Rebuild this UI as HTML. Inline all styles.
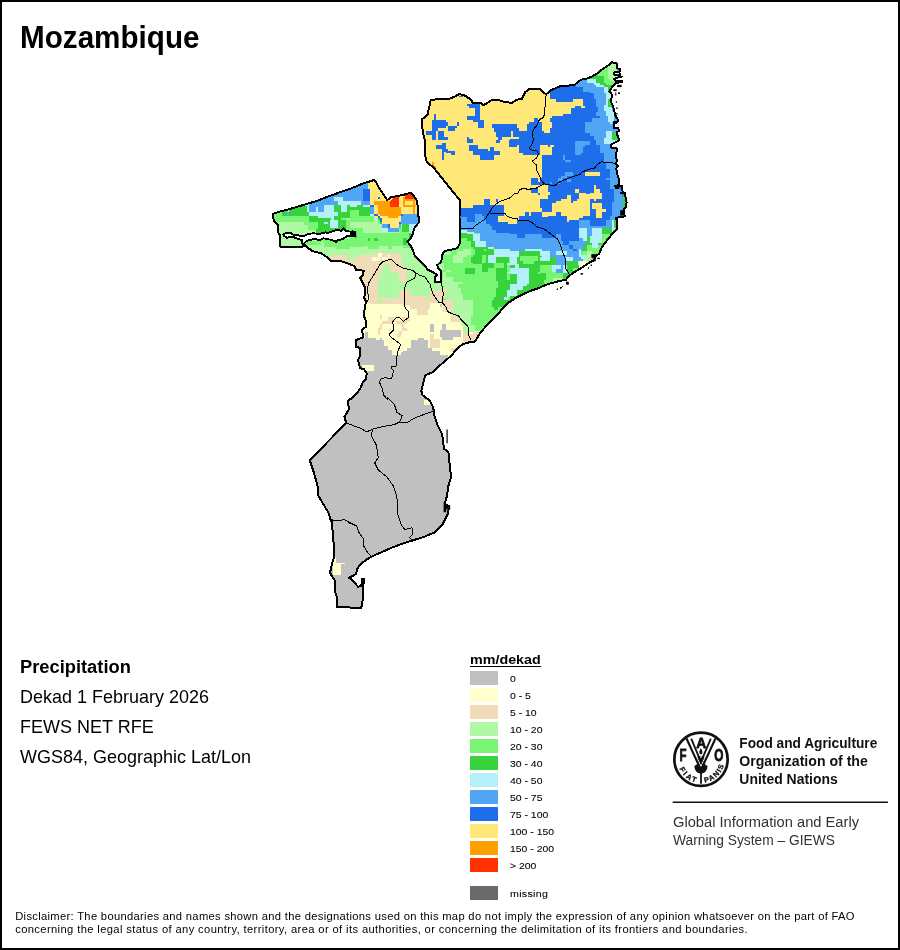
<!DOCTYPE html>
<html lang="en"><head><meta charset="utf-8"><title>Mozambique - Precipitation</title>
<style>
html,body{margin:0;padding:0;background:#fff}
body{width:900px;height:950px;position:relative;overflow:hidden;font-family:"Liberation Sans",Arial,sans-serif;color:#000}
#frame{position:absolute;left:0;top:0;width:896px;height:946px;border:2px solid #000;pointer-events:none}
.abs{position:absolute;white-space:nowrap;transform-origin:left top}
.sw{position:absolute;left:470px;width:28px;height:14px}
#ul{position:absolute;left:470px;top:665.7px;width:71px;height:1.3px;background:#000}
</style></head><body>
<svg id="map" width="900" height="950" viewBox="0 0 900 950" style="position:absolute;left:0;top:0">
<defs><clipPath id="cp"><polygon points="424.7,153.3 424.7,140 422.7,132 422,119.3 427.3,115.3 430,104 430.7,99.7 448.7,98.9 454.7,96.7 459.3,94 465.3,95.7 471.3,100 472.7,103.3 481.3,103.3 482.7,105.3 486.7,103.3 492,100 498.7,100 503.3,101.6 508.7,102.4 511.3,103.3 516,100 522,98.7 525.3,92 529.3,89.1 540,88.7 540.7,89.9 546,94.3 548,93 550,90.7 561.3,85.7 574,85.4 576.7,83 581.3,79.7 586.7,78.7 592.7,76.1 596.7,73.7 602,69.4 606.7,66.3 610,64.3 612.2,62.2 616.7,63.6 617.1,68.4 619.8,68.9 620.2,71.1 618.4,72 614.4,72.4 613.6,74.2 615.8,75.1 620.2,74.2 620.7,76.9 616.7,77.8 614,79.1 615.3,80.9 622.4,80.9 622.4,82.2 616.7,82.7 615.3,84 612.2,86.7 610.9,89.3 609.1,91.6 611.3,93.3 612.2,95.6 611.3,99.1 611.3,102.7 613.1,106.2 614,109.8 614.9,114.2 616.7,117.8 618.4,120.4 616.7,122.7 613.6,122.2 613.6,125.8 614.4,128.4 618.4,128.4 619.3,131.1 616.7,132 616.7,133.8 618.4,137.3 618.9,140 616.7,141.8 611.3,144.4 610.9,147.6 616.7,148.4 616.2,157.8 617.1,160.4 615.8,164 618.4,165.8 616.2,168.4 617.6,175.6 619.3,180 618.4,185.3 614.9,186.2 616.7,188.4 618.4,188 618.4,186.2 622,186.2 622.7,192.4 620.7,193.3 625.1,193.3 625.6,197.8 626.6,202.2 626,207.6 623.8,209.3 624.7,216.4 620.2,216.9 615.8,218.2 616.7,220 617.3,228.3 611.3,235 606,241.7 602,247 599.3,253.7 595.3,256.3 594,260.3 588.7,263 580.7,268.3 574,272.3 568.7,276.3 566,279.7 556.7,281.7 547.3,284.3 538,288.3 532,290.3 524,293.7 516,297.7 508,303 502.7,308.3 497.3,315 492,320.3 485.3,327 480,333 477.3,337.7 474.7,341.7 469.3,342.3 462.7,344.3 457.3,348.3 452,355 440,365.3 433.3,372 425.3,375.3 423.3,382.7 421.3,390.7 422.7,395.3 429.8,400.7 433.3,407.8 434.2,414.9 437.8,425.6 442.2,434.4 444,448.7 448.4,452.2 449.3,461.1 451.1,477.1 448.4,486 446.7,496.7 444.9,503.8 449.3,506.4 447.6,514.4 442.2,525.1 435.1,532.2 424.4,536.7 414,540 403.3,543.3 392.7,547.3 382,552 371.3,556.7 366,560 360.7,564 357.3,568.7 356,574 351.3,576.7 348.7,578 351.3,578.7 354,582 358,586.7 361.3,586 362,578.7 364,578.7 363.3,586.7 362.7,600 361.3,607.7 337.3,607.3 337.3,598.7 335.3,592 335.3,581.3 332.7,577.3 330,572.7 332,564 334,557.3 334,546.7 332.7,533.3 332,520 331.1,521.6 328.4,512.7 323.1,503.8 317.8,494.9 317.8,486.9 314.2,473.6 309.8,460.2 346.2,422.9 344.4,416.7 348.9,409.6 348,400.7 353.3,397.1 360,389.3 362.7,382.7 366,378.7 366.7,373.3 364,369.3 360,368 358,360 360,356 360,348 356,346.7 356,340 363.3,337.3 362,330 366,326.7 366,321.3 364,316 364.7,308 366,301.3 364,297.3 365.3,293.3 364.7,286.7 361.3,280 360.3,278 363,275.3 363.7,270.7 356.3,270 354.3,266 347.7,263.3 341,261.3 330.3,260.7 326.3,256.7 321,253.3 313,251.3 309,248.7 305,245.3 301,247.3 297,247.1 280.3,246.7 280.3,235.3 278.3,232.7 277.7,224.7 273.7,220.7 273,214 278.3,212 289,209.3 302.3,205.3 315.7,201.3 327.7,196.7 337,193.3 350.3,188.7 363.7,183.3 374.3,180 376,182 378.7,187.3 384,195.3 387.3,200 390.7,197.3 397.3,196 404,194.7 410.7,192.7 414,196 417.3,201.3 418,212.7 419.3,222 414.7,227.3 412.7,234 410.7,238 407.3,241.3 410.7,246 412.7,250 414.7,255.3 420,260.7 422.7,263.7 428,269.7 433.3,272.3 437.3,275 434.7,277.7 434.7,282.3 441.3,282.3 440.7,271 438,268.3 437.3,265 441.3,261.7 442,255 444.7,251 457.3,248.3 460,243 460,235 459.5,217 460,200 454.7,194 449.3,187.3 444,180.7 438.7,174 433.3,167.3 426.7,162"/></clipPath></defs>
<g clip-path="url(#cp)" shape-rendering="crispEdges">
<rect x="260" y="50" width="380" height="570" fill="#c0c0c0"/>
<polygon fill="#ffe878" points="420,60 510,60 510,140 420,140"/>
<polygon fill="#1e6eeb" points="434,113.8 435.8,113.8 435.8,120.4 434,120.4"/>
<polygon fill="#1e6eeb" points="432.2,120.4 446,120.4 446,122.2 432.2,122.2"/>
<polygon fill="#1e6eeb" points="432.2,122.2 447.8,122.2 447.8,126.2 432.2,126.2"/>
<polygon fill="#1e6eeb" points="432.2,126.2 446,126.2 446,128.4 432.2,128.4"/>
<polygon fill="#1e6eeb" points="432.2,128.4 438,128.4 438,131.1 432.2,131.1"/>
<polygon fill="#1e6eeb" points="430,131.1 435.8,131.1 435.8,134.7 430,134.7"/>
<polygon fill="#1e6eeb" points="432.2,134.7 435.8,134.7 435.8,140 432.2,140"/>
<polygon fill="#1e6eeb" points="438.4,131.1 443.8,131.1 443.8,137.3 438.4,137.3"/>
<polygon fill="#1e6eeb" points="438.4,137.3 447.8,137.3 447.8,140 438.4,140"/>
<polygon fill="#1e6eeb" points="457.1,122.2 458.9,122.2 458.9,125.8 457.1,125.8"/>
<polygon fill="#1e6eeb" points="448.2,126.2 456.7,126.2 456.7,128.4 448.2,128.4"/>
<polygon fill="#1e6eeb" points="448.2,128.4 454.9,128.4 454.9,130.7 448.2,130.7"/>
<polygon fill="#1e6eeb" points="467.3,104 475.3,104 475.3,106.2 467.3,106.2"/>
<polygon fill="#1e6eeb" points="469.1,106.2 475.3,106.2 475.3,108 469.1,108"/>
<polygon fill="#1e6eeb" points="475.3,104 479.8,104 479.8,120.4 475.3,120.4"/>
<polygon fill="#1e6eeb" points="467.3,116 475.3,116 475.3,119.6 467.3,119.6"/>
<polygon fill="#1e6eeb" points="473.1,119.6 483.8,119.6 483.8,122.2 473.1,122.2"/>
<polygon fill="#1e6eeb" points="478.4,122.2 483.8,122.2 483.8,127.6 478.4,127.6"/>
<polygon fill="#1e6eeb" points="492.2,124 510,124 510,128 492.2,128"/>
<polygon fill="#1e6eeb" points="494,128 510,128 510,132 494,132"/>
<polygon fill="#1e6eeb" points="495.8,132 510,132 510,137.3 495.8,137.3"/>
<polygon fill="#1e6eeb" points="497.6,137.3 502,137.3 502,140 497.6,140"/>
<polygon fill="#1e6eeb" points="467.3,137.3 469.1,137.3 469.1,140 467.3,140"/>
<polygon fill="#1e6eeb" points="469.1,138.7 472.7,138.7 472.7,140 469.1,140"/>
<polygon fill="#1e6eeb" points="459.3,95.6 462.9,95.6 462.9,96.9 459.3,96.9"/>
<polygon fill="#1e6eeb" points="510,60 590,60 590,140 510,140"/>
<polygon fill="#ffe878" points="510,86.7 550,86.7 550,99.1 556.2,99.1 556.2,101.8 573.1,101.8 573.1,99.1 582.9,99.1 582.9,106.2 584.7,106.2 584.7,108 580.7,108 580.7,106.2 575.3,106.2 575.3,108 571.3,108 571.3,114.2 563.3,114.2 563.3,116 552.2,116 552.2,118.2 550.4,118.2 550.4,122.2 551.8,122.2 551.8,128 550,128 550,132.9 544.2,132.9 544.2,131.1 542,131.1 542,122.2 538.4,122.2 538.4,118.2 534,118.2 534,122.2 529.1,122.2 529.1,124 526.9,124 526.9,131.1 519.3,131.1 519.3,128 517.1,128 517.1,124 510,124"/>
<polygon fill="#ffe878" points="511.3,131.1 513.1,131.1 513.1,137.3 511.3,137.3"/>
<polygon fill="#ffe878" points="510,136.9 518.9,136.9 518.9,139.1 510,139.1"/>
<polygon fill="#50a5f5" points="575.8,77.8 590,77.8 590,86.7 575.8,86.7"/>
<polygon fill="#50a5f5" points="582.9,86.7 590,86.7 590,92.4 582.9,92.4"/>
<polygon fill="#50a5f5" points="585.1,122.2 590,122.2 590,132.9 585.1,132.9"/>
<polygon fill="#b4f0fa" points="586.9,79.1 590,79.1 590,83.1 586.9,83.1"/>
<polygon fill="#50a5f5" points="590,60 670,60 670,140 590,140"/>
<polygon fill="#1e6eeb" points="590,92.9 594,92.9 594,99.1 590,99.1"/>
<polygon fill="#1e6eeb" points="590,99.1 595.8,99.1 595.8,107.1 590,107.1"/>
<polygon fill="#1e6eeb" points="590,107.1 598,107.1 598,112.4 590,112.4"/>
<polygon fill="#1e6eeb" points="590,112.4 595.8,112.4 595.8,116 590,116"/>
<polygon fill="#1e6eeb" points="590,116 599.8,116 599.8,118.2 590,118.2"/>
<polygon fill="#1e6eeb" points="590,118.2 591.8,118.2 591.8,122.2 590,122.2"/>
<polygon fill="#1e6eeb" points="590,135.6 594,135.6 594,140 590,140"/>
<polygon fill="#b4f0fa" points="590,78.7 596.2,78.7 596.2,82.7 590,82.7"/>
<polygon fill="#b4f0fa" points="594,82.7 599.8,82.7 599.8,84.9 594,84.9"/>
<polygon fill="#b4f0fa" points="596.2,84.9 604.2,84.9 604.2,87.1 596.2,87.1"/>
<polygon fill="#b4f0fa" points="603.8,86.7 608.2,86.7 608.2,92.9 603.8,92.9"/>
<polygon fill="#b4f0fa" points="606,92.9 611.8,92.9 611.8,99.1 606,99.1"/>
<polygon fill="#b4f0fa" points="606,99.1 608.2,99.1 608.2,105.3 606,105.3"/>
<polygon fill="#b4f0fa" points="604.2,105.3 612.2,105.3 612.2,110.7 604.2,110.7"/>
<polygon fill="#b4f0fa" points="606,110.7 613.6,110.7 613.6,116 606,116"/>
<polygon fill="#b4f0fa" points="608.2,116 613.6,116 613.6,122.2 608.2,122.2"/>
<polygon fill="#b4f0fa" points="610,122.2 612.2,122.2 612.2,124 610,124"/>
<polygon fill="#b4f0fa" points="606,131.1 611.8,131.1 611.8,138.2 606,138.2"/>
<polygon fill="#b4f0fa" points="604.2,138.2 611.8,138.2 611.8,140 604.2,140"/>
<polygon fill="#aff9a5" points="608.2,63.6 616.7,63.6 616.7,79.1 608.2,79.1"/>
<polygon fill="#aff9a5" points="610.4,79.1 614,79.1 614,81.3 610.4,81.3"/>
<polygon fill="#78f573" points="598,71.6 608.2,71.6 608.2,76.9 598,76.9"/>
<polygon fill="#78f573" points="601.6,65.3 608.2,65.3 608.2,71.6 601.6,71.6"/>
<polygon fill="#78f573" points="603.8,76.9 608.2,76.9 608.2,84.9 603.8,84.9"/>
<polygon fill="#78f573" points="608.2,79.1 610.4,79.1 610.4,84.9 608.2,84.9"/>
<polygon fill="#78f573" points="610.4,81.3 616.7,81.3 616.7,84.9 610.4,84.9"/>
<polygon fill="#37d23c" points="596.2,76.4 603.8,76.4 603.8,83.1 596.2,83.1"/>
<polygon fill="#37d23c" points="590,73.3 596.2,73.3 596.2,78.7 590,78.7"/>
<polygon fill="#37d23c" points="599.8,83.1 606,83.1 606,84.9 599.8,84.9"/>
<polygon fill="#37d23c" points="604.2,84.9 615.8,84.9 615.8,86.7 604.2,86.7"/>
<polygon fill="#37d23c" points="608.2,86.7 614,86.7 614,92.9 608.2,92.9"/>
<polygon fill="#37d23c" points="608.2,99.1 611.8,99.1 611.8,107.1 608.2,107.1"/>
<polygon fill="#37d23c" points="612.2,132.9 616.7,132.9 616.7,140 612.2,140"/>
<polygon fill="#37d23c" points="270,140 350,140 350,220 270,220"/>
<polygon fill="#50a5f5" points="307.3,184.4 350,184.4 350,205.3 307.3,205.3"/>
<polygon fill="#50a5f5" points="309.1,205.3 324.2,205.3 324.2,212 309.1,212"/>
<polygon fill="#50a5f5" points="286.9,212 289.1,212 289.1,216 286.9,216"/>
<polygon fill="#b4f0fa" points="334,196.9 342.9,196.9 342.9,201.3 334,201.3"/>
<polygon fill="#b4f0fa" points="338,201.3 350,201.3 350,205.3 338,205.3"/>
<polygon fill="#b4f0fa" points="341.1,205.3 347.3,205.3 347.3,212 341.1,212"/>
<polygon fill="#b4f0fa" points="324.2,205.3 334,205.3 334,212 324.2,212"/>
<polygon fill="#b4f0fa" points="316.2,207.1 318,207.1 318,212 316.2,212"/>
<polygon fill="#b4f0fa" points="307.3,205.3 309.1,205.3 309.1,212 307.3,212"/>
<polygon fill="#b4f0fa" points="309.1,212 338,212 338,216 309.1,216"/>
<polygon fill="#b4f0fa" points="318,216 334,216 334,218.2 318,218.2"/>
<polygon fill="#b4f0fa" points="330.9,218.2 334,218.2 334,220 330.9,220"/>
<polygon fill="#b4f0fa" points="303.8,204 309.1,204 309.1,206.2 303.8,206.2"/>
<polygon fill="#b4f0fa" points="286.9,209.3 289.1,209.3 289.1,212 286.9,212"/>
<polygon fill="#78f573" points="273.6,211.1 282,211.1 282,220 273.6,220"/>
<polygon fill="#78f573" points="282,216 309.1,216 309.1,220 282,220"/>
<polygon fill="#78f573" points="341.1,218.2 350,218.2 350,220 341.1,220"/>
<polygon fill="#aff9a5" points="345.6,218.2 350,218.2 350,220 345.6,220"/>
<polygon fill="#ffe878" points="350,140 430,140 430,220 350,220"/>
<polygon fill="#50a5f5" points="350,175.6 368.2,175.6 368.2,201.3 350,201.3"/>
<polygon fill="#50a5f5" points="361.1,201.3 370,201.3 370,205.3 361.1,205.3"/>
<polygon fill="#50a5f5" points="370,205.3 374,205.3 374,214.2 370,214.2"/>
<polygon fill="#50a5f5" points="401.1,214.2 417.6,214.2 417.6,220 401.1,220"/>
<polygon fill="#1e6eeb" points="363.3,188.9 370,188.9 370,201.3 363.3,201.3"/>
<polygon fill="#1e6eeb" points="370,205.3 374,205.3 374,207.1 370,207.1"/>
<polygon fill="#1e6eeb" points="374,213.8 378,213.8 378,216 374,216"/>
<polygon fill="#1e6eeb" points="378,216 380.2,216 380.2,218.2 378,218.2"/>
<polygon fill="#1e6eeb" points="380.2,218.2 382,218.2 382,220 380.2,220"/>
<polygon fill="#1e6eeb" points="401.1,214.2 402.9,214.2 402.9,216 401.1,216"/>
<polygon fill="#1e6eeb" points="378,196.9 379.8,196.9 379.8,199.1 378,199.1"/>
<polygon fill="#b4f0fa" points="350,200.9 361.1,200.9 361.1,206.7 350,206.7"/>
<polygon fill="#b4f0fa" points="363.3,204.9 368.2,204.9 368.2,207.1 363.3,207.1"/>
<polygon fill="#b4f0fa" points="370,214.2 374,214.2 374,216 370,216"/>
<polygon fill="#b4f0fa" points="374,218.2 378,218.2 378,220 374,220"/>
<polygon fill="#37d23c" points="357.1,205.3 363.3,205.3 363.3,207.1 357.1,207.1"/>
<polygon fill="#37d23c" points="350,207.1 370,207.1 370,210.2 350,210.2"/>
<polygon fill="#37d23c" points="358.9,210.2 370,210.2 370,216 358.9,216"/>
<polygon fill="#37d23c" points="378,218.2 380.2,218.2 380.2,220 378,220"/>
<polygon fill="#78f573" points="350,210.2 358.9,210.2 358.9,220 350,220"/>
<polygon fill="#78f573" points="358.9,216 374,216 374,220 358.9,220"/>
<polygon fill="#ffa000" points="374,201.3 390,201.3 390,207.1 401.1,207.1 401.1,216 398.4,216 398.4,217.8 388.2,217.8 388.2,216 380.2,216 380.2,214.2 378,214.2 378,205.3 374,205.3"/>
<polygon fill="#ff3200" points="390,207.1 390,201.3 392.2,198.7 396.2,196.9 398.9,196.9 398.9,207.1"/>
<polygon fill="#ff3200" points="405.1,192.4 414,192.4 414,198.7 405.1,198.7"/>
<polygon fill="#ff3200" points="411.3,198.7 413.1,198.7 413.1,200.4 411.3,200.4"/>
<polygon fill="#ffa000" points="402.9,196.9 404.7,196.9 404.7,207.1 402.9,207.1"/>
<polygon fill="#ffa000" points="404.7,198.7 415.8,198.7 415.8,200.9 404.7,200.9"/>
<polygon fill="#ffa000" points="404.7,205.3 415.8,205.3 415.8,207.1 404.7,207.1"/>
<polygon fill="#ffa000" points="413.1,200.9 415.3,200.9 415.3,213.8 413.1,213.8"/>
<polygon fill="#ffa000" points="374,179.1 376.7,179.1 376.7,181.8 374,181.8"/>
<polygon fill="#ffe878" points="430,140 510,140 510,220 430,220"/>
<polygon fill="#1e6eeb" points="442,143.1 446,143.1 446,145.2 442,145.2"/>
<polygon fill="#1e6eeb" points="436.2,145.2 446,145.2 446,148.9 436.2,148.9"/>
<polygon fill="#1e6eeb" points="442,148.9 448.2,148.9 448.2,151.6 442,151.6"/>
<polygon fill="#1e6eeb" points="446,151.1 454.9,151.1 454.9,152.9 446,152.9"/>
<polygon fill="#1e6eeb" points="450.9,152.9 454.9,152.9 454.9,154.7 450.9,154.7"/>
<polygon fill="#1e6eeb" points="442,151.6 444.2,151.6 444.2,159.6 442,159.6"/>
<polygon fill="#1e6eeb" points="467.3,140 472.7,140 472.7,142.7 467.3,142.7"/>
<polygon fill="#1e6eeb" points="496.2,140 499.8,140 499.8,142.7 496.2,142.7"/>
<polygon fill="#1e6eeb" points="509.1,140 510,140 510,146.7 509.1,146.7"/>
<polygon fill="#1e6eeb" points="469.1,145.2 478,145.2 478,150.7 469.1,150.7"/>
<polygon fill="#1e6eeb" points="473.1,148.9 488.2,148.9 488.2,154.7 473.1,154.7"/>
<polygon fill="#1e6eeb" points="480.2,154.7 494,154.7 494,159.6 480.2,159.6"/>
<polygon fill="#1e6eeb" points="488.2,150.7 499.8,150.7 499.8,154.7 488.2,154.7"/>
<polygon fill="#1e6eeb" points="490,147.1 494,147.1 494,150.7 490,150.7"/>
<polygon fill="#1e6eeb" points="484.2,199.1 490,199.1 490,205.3 484.2,205.3"/>
<polygon fill="#1e6eeb" points="495.8,199.1 498,199.1 498,202.2 495.8,202.2"/>
<polygon fill="#1e6eeb" points="473.1,205.3 503.8,205.3 503.8,207.6 473.1,207.6"/>
<polygon fill="#1e6eeb" points="458.4,207.6 503.8,207.6 503.8,216 458.4,216"/>
<polygon fill="#1e6eeb" points="458.4,216 497.6,216 497.6,220 458.4,220"/>
<polygon fill="#50a5f5" points="475.3,214.2 481.6,214.2 481.6,216.4 475.3,216.4"/>
<polygon fill="#50a5f5" points="475.3,216.4 484.2,216.4 484.2,220 475.3,220"/>
<polygon fill="#50a5f5" points="460.7,217.3 466.9,217.3 466.9,220 460.7,220"/>
<polygon fill="#ffa000" points="432.2,162.2 434,162.2 434,165.8 432.2,165.8"/>
<polygon fill="#ffa000" points="434,165.8 435.8,165.8 435.8,168.4 434,168.4"/>
<polygon fill="#1e6eeb" points="510,140 590,140 590,220 510,220"/>
<polygon fill="#ffe878" points="510,147.1 517.1,147.1 517.1,144.9 518.9,144.9 518.9,152.9 523.3,152.9 523.3,154.7 542,154.7 542,178.2 540.2,178.2 540.2,181.8 538.4,181.8 538.4,178.2 531.3,178.2 531.3,184.9 548.2,184.9 548.2,192.4 550,192.4 550,194.7 548.2,194.7 548.2,198.7 540.2,198.7 540.2,208.4 542.4,208.4 542.4,212 531.3,212 531.3,216 529.1,216 529.1,212 525.1,212 525.1,216 519.3,216 519.3,220 510,220"/>
<polygon fill="#1e6eeb" points="531.3,187.6 538,187.6 538,192.9 531.3,192.9"/>
<polygon fill="#1e6eeb" points="538,192.9 539.8,192.9 539.8,194.7 538,194.7"/>
<polygon fill="#ffe878" points="540.2,144.9 548.2,144.9 548.2,154.7 540.2,154.7"/>
<polygon fill="#ffe878" points="548.2,146.7 551.8,146.7 551.8,154.7 548.2,154.7"/>
<polygon fill="#ffe878" points="550,144.9 554,144.9 554,147.1 550,147.1"/>
<polygon fill="#ffe878" points="585.1,172 590,172 590,176 585.1,176"/>
<polygon fill="#ffe878" points="575.3,188.9 578.9,188.9 578.9,192.9 575.3,192.9"/>
<polygon fill="#ffe878" points="590,194.2 585.6,194.2 585.6,192.9 578.9,192.9 578.9,198.7 576.7,198.7 576.7,200.9 573.1,200.9 573.1,202.7 570.9,202.7 570.9,195.1 566.9,195.1 566.9,198.7 561.1,198.7 561.1,200.9 556.2,200.9 556.2,202.7 552.2,202.7 552.2,212 542.4,212 542.4,217.3 548.2,217.3 548.2,216 556.2,216 556.2,212 560.7,212 560.7,216 566.9,216 566.9,220 579.3,220 579.3,218.2 582.9,218.2 582.9,216 590,216"/>
<polygon fill="#50a5f5" points="575.3,141.3 590,141.3 590,144.9 585.1,144.9 585.1,147.1 582.9,147.1 582.9,152.9 581.1,152.9 581.1,154.7 575.3,154.7"/>
<polygon fill="#50a5f5" points="563.3,155.1 565.1,155.1 565.1,159.6 563.3,159.6"/>
<polygon fill="#50a5f5" points="565.1,159.6 570.9,159.6 570.9,161.8 565.1,161.8"/>
<polygon fill="#50a5f5" points="565.1,172 573.1,172 573.1,176 565.1,176"/>
<polygon fill="#50a5f5" points="561.1,176 566.9,176 566.9,178.2 561.1,178.2"/>
<polygon fill="#50a5f5" points="558,178.2 563.3,178.2 563.3,181.8 558,181.8"/>
<polygon fill="#50a5f5" points="550,181.8 551.8,181.8 551.8,184.4 550,184.4"/>
<polygon fill="#50a5f5" points="566.9,179.1 570.9,179.1 570.9,181.8 566.9,181.8"/>
<polygon fill="#50a5f5" points="558,181.8 559.8,181.8 559.8,184.4 558,184.4"/>
<polygon fill="#1e6eeb" points="590,140 670,140 670,220 590,220"/>
<polygon fill="#50a5f5" points="596.2,140 619.3,140 619.3,145.3 596.2,145.3"/>
<polygon fill="#50a5f5" points="599.8,145.3 619.3,145.3 619.3,152.9 599.8,152.9"/>
<polygon fill="#50a5f5" points="603.8,152.9 619.3,152.9 619.3,163.1 603.8,163.1"/>
<polygon fill="#50a5f5" points="606,163.1 619.3,163.1 619.3,169.3 606,169.3"/>
<polygon fill="#50a5f5" points="610,169.3 619.3,169.3 619.3,178.2 610,178.2"/>
<polygon fill="#50a5f5" points="606,178.2 619.3,178.2 619.3,180.4 606,180.4"/>
<polygon fill="#50a5f5" points="610,180.4 619.3,180.4 619.3,188.9 610,188.9"/>
<polygon fill="#50a5f5" points="614,188.9 622,188.9 622,196.9 614,196.9"/>
<polygon fill="#50a5f5" points="614,196.9 627.3,196.9 627.3,202.2 614,202.2"/>
<polygon fill="#50a5f5" points="612.2,202.2 627.3,202.2 627.3,216.4 612.2,216.4"/>
<polygon fill="#50a5f5" points="610,216.4 616.7,216.4 616.7,220 610,220"/>
<polygon fill="#b4f0fa" points="604.2,140 619.3,140 619.3,144.4 604.2,144.4"/>
<polygon fill="#b4f0fa" points="610,144.4 612.2,144.4 612.2,148 610,148"/>
<polygon fill="#ffe878" points="590,172 599.8,172 599.8,176 590,176"/>
<polygon fill="#ffe878" points="594,184.9 596.2,184.9 596.2,188.9 594,188.9"/>
<polygon fill="#ffe878" points="594,188.9 599.8,188.9 599.8,192.9 594,192.9"/>
<polygon fill="#ffe878" points="590,192.9 602,192.9 602,198.7 590,198.7"/>
<polygon fill="#ffe878" points="594,198.7 596.2,198.7 596.2,200.9 594,200.9"/>
<polygon fill="#ffe878" points="592.2,203.1 602,203.1 602,208.9 592.2,208.9"/>
<polygon fill="#ffe878" points="596.2,208.9 606,208.9 606,212 596.2,212"/>
<polygon fill="#ffe878" points="596.2,212 602,212 602,217.8 596.2,217.8"/>
<polygon fill="#37d23c" points="622.9,195.1 627.3,195.1 627.3,207.6 622.9,207.6"/>
<polygon fill="#aff9a5" points="270,220 350,220 350,300 270,300"/>
<polygon fill="#78f573" points="273.6,220 318,220 318,222.2 273.6,222.2"/>
<polygon fill="#78f573" points="304.2,222.2 318,222.2 318,225.3 304.2,225.3"/>
<polygon fill="#78f573" points="308.2,225.3 318,225.3 318,229.8 308.2,229.8"/>
<polygon fill="#78f573" points="345.6,220 350,220 350,232.4 345.6,232.4"/>
<polygon fill="#78f573" points="305.6,240.9 320.7,240.9 320.7,245.3 305.6,245.3"/>
<polygon fill="#78f573" points="320.7,239.1 350,239.1 350,241.8 320.7,241.8"/>
<polygon fill="#78f573" points="324.2,241.8 350,241.8 350,246.7 324.2,246.7"/>
<polygon fill="#78f573" points="335.8,246.7 350,246.7 350,249.3 335.8,249.3"/>
<polygon fill="#37d23c" points="309.1,220 318,220 318,221.8 309.1,221.8"/>
<polygon fill="#37d23c" points="318,220 345.6,220 345.6,228.9 318,228.9"/>
<polygon fill="#37d23c" points="316.2,228.9 345.6,228.9 345.6,232.9 316.2,232.9"/>
<polygon fill="#b4f0fa" points="324.2,222.2 328.2,222.2 328.2,224 324.2,224"/>
<polygon fill="#b4f0fa" points="330.4,220 338,220 338,227.6 330.4,227.6"/>
<polygon fill="#f0dcb9" points="330,255.1 346.9,255.1 346.9,260 330,260"/>
<polygon fill="#f0dcb9" points="342.9,260 350,260 350,264.4 342.9,264.4"/>
<polygon fill="#f0dcb9" points="280.2,228 282,228 282,230.2 280.2,230.2"/>
<polygon fill="#aff9a5" points="350,220 430,220 430,300 350,300"/>
<polygon fill="#78f573" points="350,220 374,220 374,221.8 350,221.8"/>
<polygon fill="#78f573" points="350,228 363.3,228 363.3,246.7 350,246.7"/>
<polygon fill="#78f573" points="363.3,233.3 411.3,233.3 411.3,245.8 363.3,245.8"/>
<polygon fill="#78f573" points="367.8,245.8 379.3,245.8 379.3,248.9 367.8,248.9"/>
<polygon fill="#78f573" points="388.2,245.8 391.8,245.8 391.8,248.9 388.2,248.9"/>
<polygon fill="#78f573" points="398.9,228 411.3,228 411.3,233.3 398.9,233.3"/>
<polygon fill="#78f573" points="403.3,245.8 410.4,245.8 410.4,248.4 403.3,248.4"/>
<polygon fill="#78f573" points="378.4,220 382,220 382,223.6 378.4,223.6"/>
<polygon fill="#37d23c" points="367.8,237.8 370,237.8 370,240.9 367.8,240.9"/>
<polygon fill="#37d23c" points="374,237.8 378,237.8 378,240.9 374,240.9"/>
<polygon fill="#37d23c" points="353.6,236 356.7,236 356.7,237.8 353.6,237.8"/>
<polygon fill="#37d23c" points="401.6,224 409.1,224 409.1,231.6 401.6,231.6"/>
<polygon fill="#37d23c" points="403.3,237.8 406.9,237.8 406.9,244.9 403.3,244.9"/>
<polygon fill="#37d23c" points="409.1,231.6 411.3,231.6 411.3,237.8 409.1,237.8"/>
<polygon fill="#37d23c" points="380.2,221.8 382,221.8 382,224 380.2,224"/>
<polygon fill="#ffe878" points="382,220 401.1,220 401.1,224 382,224"/>
<polygon fill="#ffe878" points="390,224 398.9,224 398.9,228 390,228"/>
<polygon fill="#50a5f5" points="382,224 390,224 390,228 382,228"/>
<polygon fill="#50a5f5" points="388.2,228 398.9,228 398.9,232 388.2,232"/>
<polygon fill="#50a5f5" points="401.1,220 421.1,220 421.1,224 401.1,224"/>
<polygon fill="#50a5f5" points="398.9,224 401.1,224 401.1,228 398.9,228"/>
<polygon fill="#1e6eeb" points="380.2,220 382,220 382,221.8 380.2,221.8"/>
<polygon fill="#1e6eeb" points="388.2,224 390,224 390,228 388.2,228"/>
<polygon fill="#1e6eeb" points="399.3,222.2 401.1,222.2 401.1,224 399.3,224"/>
<polygon fill="#b4f0fa" points="382,228 388.2,228 388.2,232 382,232"/>
<polygon fill="#b4f0fa" points="409.1,224 417.6,224 417.6,231.6 409.1,231.6"/>
<polygon fill="#b4f0fa" points="409.1,231.6 412.2,231.6 412.2,233.3 409.1,233.3"/>
<polygon fill="#f0dcb9" points="355.3,257.3 358.9,257.3 358.9,255.1 372.2,255.1 372.2,253.3 380.2,253.3 380.2,249.3 382,249.3 382,253.3 398.9,253.3 398.9,255.1 401.1,255.1 401.1,260.9 403.3,260.9 403.3,268.9 406.9,268.9 406.9,270.7 411.3,270.7 411.3,272.4 406.9,272.4 406.9,282.2 403.3,282.2 403.3,290.2 411.3,290.2 411.3,295.6 427.3,295.6 427.3,300 363.3,300 363.3,269.8 355.3,266.2 350,262.7 350,259.1 355.3,259.1"/>
<polygon fill="#f0dcb9" points="350,259.1 366,259.1 366,300 350,300"/>
<polygon fill="#aff9a5" points="382,264.9 390,264.9 390,274.2 382,274.2"/>
<polygon fill="#aff9a5" points="380.2,272.4 399.3,272.4 399.3,282.2 380.2,282.2"/>
<polygon fill="#aff9a5" points="378,276.9 380.2,276.9 380.2,298.2 378,298.2"/>
<polygon fill="#aff9a5" points="380.2,282.2 403.3,282.2 403.3,290.2 380.2,290.2"/>
<polygon fill="#aff9a5" points="380.2,290.2 399.3,290.2 399.3,298.2 380.2,298.2"/>
<polygon fill="#ffffcc" points="372.2,257.3 380.2,257.3 380.2,260.9 372.2,260.9"/>
<polygon fill="#ffffcc" points="378,253.3 382,253.3 382,257.3 378,257.3"/>
<polygon fill="#ffffcc" points="382,257.3 388.2,257.3 388.2,259.6 382,259.6"/>
<polygon fill="#ffffcc" points="388.2,255.1 390,255.1 390,256.9 388.2,256.9"/>
<polygon fill="#ffffcc" points="367.3,297.3 370,297.3 370,300 367.3,300"/>
<polygon fill="#78f573" points="430,220 510,220 510,300 430,300"/>
<polygon fill="#50a5f5" points="460.2,220 510,220 510,250.7 496.2,250.7 496.2,248.9 494,248.9 494,246.7 486,246.7 486,240.9 480.2,240.9 480.2,233.3 474.4,233.3 474.4,231.6 467.3,231.6 467.3,229.8 460.2,229.8"/>
<polygon fill="#1e6eeb" points="486,220 510,220 510,233.3 496.2,233.3 496.2,229.8 492.2,229.8 492.2,225.8 490.4,225.8 490.4,223.6 486,223.6"/>
<polygon fill="#1e6eeb" points="467.3,220 474.9,220 474.9,221.8 467.3,221.8"/>
<polygon fill="#ffe878" points="498,220 510,220 510,221.8 498,221.8"/>
<polygon fill="#ffe878" points="508.2,221.8 510,221.8 510,223.6 508.2,223.6"/>
<polygon fill="#37d23c" points="461.1,233.3 473.1,233.3 473.1,237.8 461.1,237.8"/>
<polygon fill="#37d23c" points="467.3,237.8 474.4,237.8 474.4,240.9 467.3,240.9"/>
<polygon fill="#37d23c" points="471.3,240.9 475.3,240.9 475.3,246.7 471.3,246.7"/>
<polygon fill="#37d23c" points="473.1,246.7 496.2,246.7 496.2,248.9 473.1,248.9"/>
<polygon fill="#37d23c" points="475.3,248.9 496.2,248.9 496.2,254.7 475.3,254.7"/>
<polygon fill="#37d23c" points="473.1,254.7 481.6,254.7 481.6,264.4 473.1,264.4"/>
<polygon fill="#37d23c" points="475.3,252.9 479.8,252.9 479.8,254.7 475.3,254.7"/>
<polygon fill="#37d23c" points="483.3,254.7 488.2,254.7 488.2,264.4 483.3,264.4"/>
<polygon fill="#37d23c" points="481.6,264.4 494,264.4 494,272.4 481.6,272.4"/>
<polygon fill="#37d23c" points="488.2,262.7 496.2,262.7 496.2,264.4 488.2,264.4"/>
<polygon fill="#37d23c" points="496.2,257.3 509.1,257.3 509.1,262.7 496.2,262.7"/>
<polygon fill="#37d23c" points="494,262.7 507.3,262.7 507.3,268 494,268"/>
<polygon fill="#37d23c" points="496.2,268 507.3,268 507.3,281.3 496.2,281.3"/>
<polygon fill="#37d23c" points="498.4,281.3 504.2,281.3 504.2,288.4 498.4,288.4"/>
<polygon fill="#37d23c" points="504.2,280.4 510,280.4 510,290.2 504.2,290.2"/>
<polygon fill="#37d23c" points="496.2,288.4 507.3,288.4 507.3,297.3 496.2,297.3"/>
<polygon fill="#37d23c" points="494,297.3 504.2,297.3 504.2,300 494,300"/>
<polygon fill="#37d23c" points="465.1,268 474.9,268 474.9,273.8 465.1,273.8"/>
<polygon fill="#37d23c" points="471.3,256.9 473.1,256.9 473.1,262.7 471.3,262.7"/>
<polygon fill="#78f573" points="482,255.1 486,255.1 486,262.7 482,262.7"/>
<polygon fill="#78f573" points="494,263.1 503.8,263.1 503.8,268 494,268"/>
<polygon fill="#78f573" points="488.2,268 494,268 494,272 488.2,272"/>
<polygon fill="#78f573" points="483.8,248.9 486,248.9 486,251.1 483.8,251.1"/>
<polygon fill="#b4f0fa" points="460.2,229.8 467.3,229.8 467.3,233.3 460.2,233.3"/>
<polygon fill="#b4f0fa" points="467.3,231.6 474.4,231.6 474.4,233.8 467.3,233.8"/>
<polygon fill="#b4f0fa" points="473.1,233.8 480.2,233.8 480.2,240.9 473.1,240.9"/>
<polygon fill="#b4f0fa" points="475.3,240.9 486,240.9 486,246.7 475.3,246.7"/>
<polygon fill="#b4f0fa" points="488.2,246.7 494,246.7 494,248.9 488.2,248.9"/>
<polygon fill="#b4f0fa" points="494,248.9 510,248.9 510,257.3 494,257.3"/>
<polygon fill="#b4f0fa" points="488.2,254.7 496.2,254.7 496.2,262.7 488.2,262.7"/>
<polygon fill="#b4f0fa" points="507.3,262.7 510,262.7 510,265.3 507.3,265.3"/>
<polygon fill="#b4f0fa" points="507.3,271.6 510,271.6 510,273.3 507.3,273.3"/>
<polygon fill="#b4f0fa" points="507.3,290.2 510,290.2 510,297.3 507.3,297.3"/>
<polygon fill="#b4f0fa" points="504.2,297.3 508.2,297.3 508.2,300 504.2,300"/>
<polygon fill="#f0dcb9" points="430,290.2 441.6,290.2 441.6,300 430,300"/>
<polygon fill="#f0dcb9" points="441.6,288 446,288 446,297.8 441.6,297.8"/>
<polygon fill="#aff9a5" points="463.3,248.9 470.9,248.9 470.9,252.9 463.3,252.9"/>
<polygon fill="#aff9a5" points="457.1,251.1 470.9,251.1 470.9,254.7 457.1,254.7"/>
<polygon fill="#aff9a5" points="453.1,254.7 467.3,254.7 467.3,257.3 453.1,257.3"/>
<polygon fill="#aff9a5" points="453.1,257.3 463.3,257.3 463.3,262.7 453.1,262.7"/>
<polygon fill="#aff9a5" points="444.2,252.4 450.9,252.4 450.9,254.7 444.2,254.7"/>
<polygon fill="#aff9a5" points="438,262.7 444.2,262.7 444.2,269.8 438,269.8"/>
<polygon fill="#aff9a5" points="446,269.8 450.9,269.8 450.9,272 446,272"/>
<polygon fill="#aff9a5" points="443.3,272 446,272 446,276.9 443.3,276.9"/>
<polygon fill="#aff9a5" points="443.3,276.9 453.1,276.9 453.1,282.2 443.3,282.2"/>
<polygon fill="#aff9a5" points="443.3,282.2 457.6,282.2 457.6,288.4 443.3,288.4"/>
<polygon fill="#aff9a5" points="446,288.4 461.1,288.4 461.1,293.8 446,293.8"/>
<polygon fill="#aff9a5" points="446,293.8 462.9,293.8 462.9,300 446,300"/>
<polygon fill="#aff9a5" points="457.6,282.2 462.9,282.2 462.9,284 457.6,284"/>
<polygon fill="#aff9a5" points="430,269.8 436.2,269.8 436.2,290.2 430,290.2"/>
<polygon fill="#50a5f5" points="510,220 590,220 590,300 510,300"/>
<polygon fill="#1e6eeb" points="517.1,220 578.9,220 578.9,233.8 517.1,233.8"/>
<polygon fill="#1e6eeb" points="510,224 517.1,224 517.1,233.8 510,233.8"/>
<polygon fill="#1e6eeb" points="517.1,233.8 525.1,233.8 525.1,237.8 517.1,237.8"/>
<polygon fill="#1e6eeb" points="542,233.8 556.2,233.8 556.2,237.8 542,237.8"/>
<polygon fill="#1e6eeb" points="561.1,233.8 578.9,233.8 578.9,241.3 561.1,241.3"/>
<polygon fill="#1e6eeb" points="563.3,241.3 569.1,241.3 569.1,244.9 563.3,244.9"/>
<polygon fill="#1e6eeb" points="569.1,244.9 573.1,244.9 573.1,248.9 569.1,248.9"/>
<polygon fill="#1e6eeb" points="573.1,248.9 577.1,248.9 577.1,250.7 573.1,250.7"/>
<polygon fill="#ffe878" points="510,220 517.1,220 517.1,224 510,224"/>
<polygon fill="#ffe878" points="566.9,220 569.1,220 569.1,221.8 566.9,221.8"/>
<polygon fill="#b4f0fa" points="510,250.7 518.9,250.7 518.9,265.3 510,265.3"/>
<polygon fill="#b4f0fa" points="525.1,248.9 542,248.9 542,251.1 525.1,251.1"/>
<polygon fill="#b4f0fa" points="540.2,251.1 550,251.1 550,260.9 540.2,260.9"/>
<polygon fill="#b4f0fa" points="556.2,251.1 566.9,251.1 566.9,255.1 556.2,255.1"/>
<polygon fill="#b4f0fa" points="565.1,256.9 573.1,256.9 573.1,260.9 565.1,260.9"/>
<polygon fill="#b4f0fa" points="552.2,264.9 561.1,264.9 561.1,268.9 552.2,268.9"/>
<polygon fill="#b4f0fa" points="552.2,268.9 556.2,268.9 556.2,272 552.2,272"/>
<polygon fill="#b4f0fa" points="563.3,264.9 569.1,264.9 569.1,273.3 563.3,273.3"/>
<polygon fill="#b4f0fa" points="578.9,228 587.3,228 587.3,237.8 578.9,237.8"/>
<polygon fill="#b4f0fa" points="582.9,237.8 587.3,237.8 587.3,241.3 582.9,241.3"/>
<polygon fill="#b4f0fa" points="578.9,248.9 581.1,248.9 581.1,257.3 578.9,257.3"/>
<polygon fill="#b4f0fa" points="581.1,255.1 587.3,255.1 587.3,259.1 581.1,259.1"/>
<polygon fill="#b4f0fa" points="577.6,260.9 579.3,260.9 579.3,264.9 577.6,264.9"/>
<polygon fill="#37d23c" points="518.9,251.1 540.2,251.1 540.2,255.6 518.9,255.6"/>
<polygon fill="#37d23c" points="517.1,257.3 519.8,257.3 519.8,264.4 517.1,264.4"/>
<polygon fill="#37d23c" points="518.9,262.7 550,262.7 550,265.3 518.9,265.3"/>
<polygon fill="#37d23c" points="534,260.9 552.2,260.9 552.2,264.4 534,264.4"/>
<polygon fill="#37d23c" points="550,256.9 556.2,256.9 556.2,264.9 550,264.9"/>
<polygon fill="#37d23c" points="510,265.3 514.9,265.3 514.9,268.4 510,268.4"/>
<polygon fill="#37d23c" points="523.3,265.3 552.2,265.3 552.2,269.8 523.3,269.8"/>
<polygon fill="#37d23c" points="523.3,269.8 540.2,269.8 540.2,273.3 523.3,273.3"/>
<polygon fill="#37d23c" points="529.1,273.3 545.6,273.3 545.6,282.2 529.1,282.2"/>
<polygon fill="#37d23c" points="527.3,282.2 543.8,282.2 543.8,286.7 527.3,286.7"/>
<polygon fill="#37d23c" points="523.3,285.8 536.7,285.8 536.7,290.2 523.3,290.2"/>
<polygon fill="#37d23c" points="517.1,290.2 532.2,290.2 532.2,294.7 517.1,294.7"/>
<polygon fill="#37d23c" points="510,294.7 523.3,294.7 523.3,300 510,300"/>
<polygon fill="#37d23c" points="566.9,260.9 577.6,260.9 577.6,273.3 566.9,273.3"/>
<polygon fill="#37d23c" points="563.3,273.3 568.7,273.3 568.7,278.7 563.3,278.7"/>
<polygon fill="#37d23c" points="587.3,236 590,236 590,251.1 587.3,251.1"/>
<polygon fill="#37d23c" points="582.9,244.9 587.3,244.9 587.3,251.1 582.9,251.1"/>
<polygon fill="#37d23c" points="518.9,255.6 519.8,255.6 519.8,257.3 518.9,257.3"/>
<polygon fill="#37d23c" points="538.4,255.6 542,255.6 542,257.3 538.4,257.3"/>
<polygon fill="#78f573" points="519.8,255.6 538.4,255.6 538.4,260.9 519.8,260.9"/>
<polygon fill="#78f573" points="523.3,260.9 534,260.9 534,264.4 523.3,264.4"/>
<polygon fill="#78f573" points="540.2,265.3 552.2,265.3 552.2,273.3 540.2,273.3"/>
<polygon fill="#78f573" points="545.6,273.3 556.2,273.3 556.2,280.4 545.6,280.4"/>
<polygon fill="#78f573" points="543.8,280.4 552.7,280.4 552.7,284 543.8,284"/>
<polygon fill="#78f573" points="556.2,273.3 563.3,273.3 563.3,277.8 556.2,277.8"/>
<polygon fill="#78f573" points="581.1,251.1 587.3,251.1 587.3,255.1 581.1,255.1"/>
<polygon fill="#78f573" points="587.3,244.9 590,244.9 590,252 587.3,252"/>
<polygon fill="#78f573" points="573.1,268 579.3,268 579.3,272.4 573.1,272.4"/>
<polygon fill="#78f573" points="538.4,271.6 540.2,271.6 540.2,274.2 538.4,274.2"/>
<polygon fill="#aff9a5" points="552.7,277.8 563.3,277.8 563.3,282.2 552.7,282.2"/>
<polygon fill="#aff9a5" points="587.3,251.1 590,251.1 590,262.7 587.3,262.7"/>
<polygon fill="#aff9a5" points="582.9,259.1 587.3,259.1 587.3,261.3 582.9,261.3"/>
<polygon fill="#ffffcc" points="579.3,261.3 587.3,261.3 587.3,267.6 579.3,267.6"/>
<polygon fill="#b4f0fa" points="510,268.4 529.1,268.4 529.1,274.2 510,274.2"/>
<polygon fill="#b4f0fa" points="518.9,274.2 529.1,274.2 529.1,284 518.9,284"/>
<polygon fill="#b4f0fa" points="510,284 527.3,284 527.3,286.2 510,286.2"/>
<polygon fill="#b4f0fa" points="510,286.2 523.3,286.2 523.3,290.2 510,290.2"/>
<polygon fill="#b4f0fa" points="510,290.2 517.1,290.2 517.1,296.4 510,296.4"/>
<polygon fill="#37d23c" points="510,274.2 517.1,274.2 517.1,284 510,284"/>
<polygon fill="#b4f0fa" points="517.1,273.8 518.9,273.8 518.9,280 517.1,280"/>
<polygon fill="#37d23c" points="590,220 670,220 670,300 590,300"/>
<polygon fill="#1e6eeb" points="590,220 606,220 606,225.8 590,225.8"/>
<polygon fill="#50a5f5" points="606,220 611.8,220 611.8,227.6 606,227.6"/>
<polygon fill="#50a5f5" points="590,225.8 611.8,225.8 611.8,228 590,228"/>
<polygon fill="#50a5f5" points="590,228 592.2,228 592.2,236 590,236"/>
<polygon fill="#b4f0fa" points="611.8,220 614,220 614,231.6 611.8,231.6"/>
<polygon fill="#b4f0fa" points="592.2,228 602,228 602,243.1 592.2,243.1"/>
<polygon fill="#b4f0fa" points="590,236 592.2,236 592.2,243.1 590,243.1"/>
<polygon fill="#b4f0fa" points="592.2,243.1 598,243.1 598,248.4 592.2,248.4"/>
<polygon fill="#b4f0fa" points="614,228 616.2,228 616.2,229.8 614,229.8"/>
<polygon fill="#78f573" points="602,233.8 610.4,233.8 610.4,243.1 602,243.1"/>
<polygon fill="#78f573" points="590,244.9 592.2,244.9 592.2,251.1 590,251.1"/>
<polygon fill="#78f573" points="598,244.9 601.6,244.9 601.6,252.9 598,252.9"/>
<polygon fill="#78f573" points="592.2,248.4 598,248.4 598,255.6 592.2,255.6"/>
<polygon fill="#78f573" points="590,259.1 595.3,259.1 595.3,262.7 590,262.7"/>
<polygon fill="#aff9a5" points="590,251.1 592.2,251.1 592.2,255.6 590,255.6"/>
<polygon fill="#f0dcb9" points="590,255.6 591.8,255.6 591.8,259.1 590,259.1"/>
<polygon fill="#ffffcc" points="350,300 430,300 430,380 350,380"/>
<polygon fill="#f0dcb9" points="370,300 403.3,300 403.3,304.4 370,304.4"/>
<polygon fill="#f0dcb9" points="403.3,300 430,300 430,305.3 403.3,305.3"/>
<polygon fill="#f0dcb9" points="410.4,305.3 430,305.3 430,308.9 410.4,308.9"/>
<polygon fill="#f0dcb9" points="417.1,307.1 428.2,307.1 428.2,314.7 417.1,314.7"/>
<polygon fill="#f0dcb9" points="380.2,315.1 382,315.1 382,319.1 380.2,319.1"/>
<polygon fill="#f0dcb9" points="388.2,316.9 396.2,316.9 396.2,321.3 388.2,321.3"/>
<polygon fill="#f0dcb9" points="382,321.3 391.8,321.3 391.8,323.6 382,323.6"/>
<polygon fill="#f0dcb9" points="380.2,323.6 382,323.6 382,330.2 380.2,330.2"/>
<polygon fill="#f0dcb9" points="378.4,327.6 380.2,327.6 380.2,334.7 378.4,334.7"/>
<polygon fill="#f0dcb9" points="401.6,316.9 410.4,316.9 410.4,321.3 401.6,321.3"/>
<polygon fill="#f0dcb9" points="396.2,321.3 406.9,321.3 406.9,323.6 396.2,323.6"/>
<polygon fill="#f0dcb9" points="401.6,323.6 404.2,323.6 404.2,331.1 401.6,331.1"/>
<polygon fill="#f0dcb9" points="404.2,327.6 406.9,327.6 406.9,331.1 404.2,331.1"/>
<polygon fill="#f0dcb9" points="398.9,331.1 402.4,331.1 402.4,334.2 398.9,334.2"/>
<polygon fill="#f0dcb9" points="397.1,334.2 401.1,334.2 401.1,337.3 397.1,337.3"/>
<polygon fill="#f0dcb9" points="363.3,300 370,300 370,302.7 363.3,302.7"/>
<polygon fill="#aff9a5" points="378,300 382,300 382,302.7 378,302.7"/>
<polygon fill="#aff9a5" points="388.2,300 390,300 390,302.7 388.2,302.7"/>
<polygon fill="#c0c0c0" points="350,338.2 365.1,338.2 365.1,332 367.8,332 367.8,338.2 375.8,338.2 375.8,340.4 380.2,340.4 380.2,338.2 382,338.2 382,340.4 383.8,340.4 383.8,346.2 388.2,346.2 388.2,350.2 392.2,350.2 392.2,354.7 401.1,354.7 401.1,352.4 403.3,352.4 403.3,350.7 407.3,350.7 407.3,348.4 411.3,348.4 411.3,340.4 417.6,340.4 417.6,338.2 423.8,338.2 423.8,340.4 428.2,340.4 428.2,348 430,348 430,380 350,380"/>
<polygon fill="#ffffcc" points="362.4,364.9 374,364.9 374,370.7 362.4,370.7"/>
<polygon fill="#ffffcc" points="430,300 510,300 510,380 430,380"/>
<polygon fill="#f0dcb9" points="443.3,300 453.1,300 453.1,312 443.3,312"/>
<polygon fill="#f0dcb9" points="451.3,312 453.1,312 453.1,315.1 451.3,315.1"/>
<polygon fill="#f0dcb9" points="451.3,315.1 461.1,315.1 461.1,322.2 451.3,322.2"/>
<polygon fill="#f0dcb9" points="462.9,330.2 465.1,330.2 465.1,340 462.9,340"/>
<polygon fill="#f0dcb9" points="465.1,333.8 472.7,333.8 472.7,340 465.1,340"/>
<polygon fill="#f0dcb9" points="462.9,340 469.1,340 469.1,342.7 462.9,342.7"/>
<polygon fill="#f0dcb9" points="472.7,332.4 479.8,332.4 479.8,340 472.7,340"/>
<polygon fill="#f0dcb9" points="430,333.8 434,333.8 434,339.1 430,339.1"/>
<polygon fill="#f0dcb9" points="430,339.1 439.8,339.1 439.8,348 430,348"/>
<polygon fill="#f0dcb9" points="430,348 432.2,348 432.2,349.8 430,349.8"/>
<polygon fill="#f0dcb9" points="451.3,348 457.6,348 457.6,350.7 451.3,350.7"/>
<polygon fill="#f0dcb9" points="434,339.1 439.8,339.1 439.8,342.7 434,342.7"/>
<polygon fill="#f0dcb9" points="430,300 441.6,300 441.6,302.7 430,302.7"/>
<polygon fill="#f0dcb9" points="469.1,335.6 476.2,335.6 476.2,342.7 469.1,342.7"/>
<polygon fill="#78f573" points="470.9,300 510,300 510,328.4 470.9,328.4"/>
<polygon fill="#78f573" points="475.3,328.4 483.3,328.4 483.3,331.1 475.3,331.1"/>
<polygon fill="#aff9a5" points="453.1,300 473.1,300 473.1,316 453.1,316"/>
<polygon fill="#aff9a5" points="461.1,316 471.3,316 471.3,324.9 461.1,324.9"/>
<polygon fill="#aff9a5" points="462.9,324.9 475.3,324.9 475.3,330.2 462.9,330.2"/>
<polygon fill="#aff9a5" points="465.1,330.2 469.1,330.2 469.1,333.8 465.1,333.8"/>
<polygon fill="#aff9a5" points="469.1,330.2 475.3,330.2 475.3,332.4 469.1,332.4"/>
<polygon fill="#37d23c" points="492.2,300 510,300 510,307.1 492.2,307.1"/>
<polygon fill="#37d23c" points="494,307.1 497.6,307.1 497.6,309.8 494,309.8"/>
<polygon fill="#c0c0c0" points="430,324 434,324 434,332 430,332"/>
<polygon fill="#c0c0c0" points="442,324 446,324 446,330.2 442,330.2"/>
<polygon fill="#c0c0c0" points="440.2,330.2 461.1,330.2 461.1,337.3 440.2,337.3"/>
<polygon fill="#c0c0c0" points="442,337.3 453.1,337.3 453.1,340 442,340"/>
<polygon fill="#c0c0c0" points="439.8,304.4 442,304.4 442,307.1 439.8,307.1"/>
<polygon fill="#c0c0c0" points="430,348.4 431.8,348.4 431.8,350.7 439.8,350.7 439.8,354.7 447.8,354.7 447.8,380 430,380"/>
<polygon fill="#ffffcc" points="424.4,399.8 429.8,399.8 429.8,405.1 424.4,405.1"/>
<polygon fill="#ffffcc" points="333.3,556.7 336,556.7 336,562.7 333.3,562.7"/>
<polygon fill="#ffffcc" points="333.3,562.7 344.7,562.7 344.7,564 333.3,564"/>
<polygon fill="#ffffcc" points="332.7,564 341.3,564 341.3,574.7 332.7,574.7"/>
<polygon fill="#37d23c" points="538.4,257.3 540.2,257.3 540.2,262.7 538.4,262.7"/>
<polygon fill="#37d23c" points="519.8,260.9 523.3,260.9 523.3,262.7 519.8,262.7"/>
<polygon fill="#37d23c" points="518.9,264.4 523.3,264.4 523.3,268.4 518.9,268.4"/>
<polygon fill="#b4f0fa" points="514.9,265.3 518.9,265.3 518.9,268.4 514.9,268.4"/>
<polygon fill="#b4f0fa" points="517.1,280 518.9,280 518.9,284 517.1,284"/>
<polygon fill="#78f573" points="552.2,272 556.2,272 556.2,273.3 552.2,273.3"/>
<polygon fill="#1e6eeb" points="426,131.1 430,131.1 430,134.7 426,134.7"/>
<polygon fill="#aff9a5" points="430,269.8 442,269.8 442,290.4 430,290.4"/>
<polygon fill="#aff9a5" points="441.6,282.2 446,282.2 446,288 441.6,288"/>
</g>
<g fill="none" stroke="#000" stroke-width="1" stroke-linejoin="round" shape-rendering="crispEdges">
<polyline points="546.4,94.7 545.1,99.1 545.6,104.4 544.2,109.8 544.2,115.1 542.9,117.8 539.3,119.6 538.4,122.2 536.7,125.8 533.6,129.3 532.2,132.9 532.7,137.3 533.6,140 531.3,145.3 529.1,148.4 532.2,150.2 537.6,151.1 538.4,154.2 536.7,157.8 532.2,161.3 536.2,164.9 536.7,170.2 539.3,175.6 541.1,180 543.8,183.6 548.2,184.9 555.3,185.3 559.8,181.8 568.7,178.2 580.2,174.2 582,172 590,168.9 593.6,168.9 598.4,163.6 601.6,161.8 606,162.7 612.2,162.7 615.8,164"/>
<polyline points="543.8,184 539.3,186.2 535.8,188.4 531.3,188.4 529.1,190.2 525.1,188.4 519.8,189.3 518,192.9 513.6,194.2 510,197.8 502.9,200.4 498.4,202.2 493.1,206.7 489.6,212 485.1,219.1 479.8,222.7 474.4,226.2 472.7,228.9 460.2,228.4"/>
<polyline points="489.6,213.3 504.7,213.3 507.3,216.4 510,217.3 513.6,218.7 517.1,218.7 518,220 518.9,220 526,220.4 530.4,221.3 537.6,227.1 543.8,228.9 550,233.3 557.1,238.7 559.8,243.1 562.4,251.1 566,260.9 565.1,267.1 569.1,274.2"/>
<polyline points="366.9,301.8 368.2,300 367.8,286.7 369.1,282.2 374.9,273.3 379.3,265.3 382.9,261.8 390.9,259.1 396.2,264.4 403.3,268 413.1,270.7 419.3,275.1 424.7,276.9 430,284 432.7,293.8 437.1,300 438.9,302.2 442.4,302.7 446,307.1 447.8,311.6 452.2,313.8 458.4,315.6 461.1,319.6 465.6,324 468.7,327.6 468.7,335.6 470.9,340"/>
<polyline points="413.1,270.7 415.8,273.3 414.9,277.8 406.9,282.2 404.7,287.6 404.2,300 405.1,308 408.7,311.6 408.2,317.8 403.3,321.3 399.8,317.8 396.2,317.8 392.7,321.8 394,329.3 389.6,333.8 390,336.4 397.1,341.8 400.7,344.4 397.1,353.3 396.7,365.8 390.9,367.1 393.6,371.1 391.8,378.2 388.2,378.7 385.6,377.3 381.1,379.1 379.3,382 382.7,389.3 383.3,394.7 388,400 387.1,397.1 394.2,404.2 396.9,412.2 402.2,415.8 399.6,422"/>
<polyline points="441.6,283.1 442.4,289.3 443.3,293.8 442.4,300 442.4,302.7"/>
<polyline points="346.2,422.9 353.3,425.6 360.4,428.2 366.7,431.8 372.9,429.1 383.6,426.4 394.2,424.7 399.6,422 406.7,422.9 413.8,418.4 422.7,414.9 433.3,411.3"/>
<polyline points="372.9,429.1 371.1,435.3 376.4,445.1 378.2,457.6 374.7,462.9 378.2,470 387.1,477.1 393.3,486 396.9,496.7 397.8,514.4 401.3,525.1 404.9,529.6 412,527.8 412.9,534 409.3,537.6 413.8,541.1"/>
<polyline points="332,520.7 344.4,519.8 355.1,525.1 348.7,522.7 356.7,526 359.3,533.3 363.3,538.7 363.3,545.3 367.3,552 370.7,556"/>
</g>
<polygon points="283.3,234.2 286,232.9 290.9,232.9 293.1,234.7 296.7,235.1 302.9,236.4 307.3,234.2 312.7,233.3 319.8,233.8 325.1,232.4 327.8,232.9 332.2,231.6 337.6,229.8 341.1,230.7 343.8,228.4 345.6,231.1 350,231.6 353.1,231.4 353.1,235.6 350,236.4 346.4,236.4 342.9,239.1 338.4,240 336.2,241.8 332.2,240 326.9,239.1 323.3,238.2 319.8,240 314.4,239.1 309.1,240 305.6,241.8 303.8,244 302.4,244 302,240 297.6,238.7 294,237.3 290.9,236.4 286.9,237.8 284.2,236" fill="#fff" stroke="#000" stroke-width="1.9" stroke-linejoin="round" shape-rendering="crispEdges"/>
<polygon points="424.7,153.3 424.7,140 422.7,132 422,119.3 427.3,115.3 430,104 430.7,99.7 448.7,98.9 454.7,96.7 459.3,94 465.3,95.7 471.3,100 472.7,103.3 481.3,103.3 482.7,105.3 486.7,103.3 492,100 498.7,100 503.3,101.6 508.7,102.4 511.3,103.3 516,100 522,98.7 525.3,92 529.3,89.1 540,88.7 540.7,89.9 546,94.3 548,93 550,90.7 561.3,85.7 574,85.4 576.7,83 581.3,79.7 586.7,78.7 592.7,76.1 596.7,73.7 602,69.4 606.7,66.3 610,64.3 612.2,62.2 616.7,63.6 617.1,68.4 619.8,68.9 620.2,71.1 618.4,72 614.4,72.4 613.6,74.2 615.8,75.1 620.2,74.2 620.7,76.9 616.7,77.8 614,79.1 615.3,80.9 622.4,80.9 622.4,82.2 616.7,82.7 615.3,84 612.2,86.7 610.9,89.3 609.1,91.6 611.3,93.3 612.2,95.6 611.3,99.1 611.3,102.7 613.1,106.2 614,109.8 614.9,114.2 616.7,117.8 618.4,120.4 616.7,122.7 613.6,122.2 613.6,125.8 614.4,128.4 618.4,128.4 619.3,131.1 616.7,132 616.7,133.8 618.4,137.3 618.9,140 616.7,141.8 611.3,144.4 610.9,147.6 616.7,148.4 616.2,157.8 617.1,160.4 615.8,164 618.4,165.8 616.2,168.4 617.6,175.6 619.3,180 618.4,185.3 614.9,186.2 616.7,188.4 618.4,188 618.4,186.2 622,186.2 622.7,192.4 620.7,193.3 625.1,193.3 625.6,197.8 626.6,202.2 626,207.6 623.8,209.3 624.7,216.4 620.2,216.9 615.8,218.2 616.7,220 617.3,228.3 611.3,235 606,241.7 602,247 599.3,253.7 595.3,256.3 594,260.3 588.7,263 580.7,268.3 574,272.3 568.7,276.3 566,279.7 556.7,281.7 547.3,284.3 538,288.3 532,290.3 524,293.7 516,297.7 508,303 502.7,308.3 497.3,315 492,320.3 485.3,327 480,333 477.3,337.7 474.7,341.7 469.3,342.3 462.7,344.3 457.3,348.3 452,355 440,365.3 433.3,372 425.3,375.3 423.3,382.7 421.3,390.7 422.7,395.3 429.8,400.7 433.3,407.8 434.2,414.9 437.8,425.6 442.2,434.4 444,448.7 448.4,452.2 449.3,461.1 451.1,477.1 448.4,486 446.7,496.7 444.9,503.8 449.3,506.4 447.6,514.4 442.2,525.1 435.1,532.2 424.4,536.7 414,540 403.3,543.3 392.7,547.3 382,552 371.3,556.7 366,560 360.7,564 357.3,568.7 356,574 351.3,576.7 348.7,578 351.3,578.7 354,582 358,586.7 361.3,586 362,578.7 364,578.7 363.3,586.7 362.7,600 361.3,607.7 337.3,607.3 337.3,598.7 335.3,592 335.3,581.3 332.7,577.3 330,572.7 332,564 334,557.3 334,546.7 332.7,533.3 332,520 331.1,521.6 328.4,512.7 323.1,503.8 317.8,494.9 317.8,486.9 314.2,473.6 309.8,460.2 346.2,422.9 344.4,416.7 348.9,409.6 348,400.7 353.3,397.1 360,389.3 362.7,382.7 366,378.7 366.7,373.3 364,369.3 360,368 358,360 360,356 360,348 356,346.7 356,340 363.3,337.3 362,330 366,326.7 366,321.3 364,316 364.7,308 366,301.3 364,297.3 365.3,293.3 364.7,286.7 361.3,280 360.3,278 363,275.3 363.7,270.7 356.3,270 354.3,266 347.7,263.3 341,261.3 330.3,260.7 326.3,256.7 321,253.3 313,251.3 309,248.7 305,245.3 301,247.3 297,247.1 280.3,246.7 280.3,235.3 278.3,232.7 277.7,224.7 273.7,220.7 273,214 278.3,212 289,209.3 302.3,205.3 315.7,201.3 327.7,196.7 337,193.3 350.3,188.7 363.7,183.3 374.3,180 376,182 378.7,187.3 384,195.3 387.3,200 390.7,197.3 397.3,196 404,194.7 410.7,192.7 414,196 417.3,201.3 418,212.7 419.3,222 414.7,227.3 412.7,234 410.7,238 407.3,241.3 410.7,246 412.7,250 414.7,255.3 420,260.7 422.7,263.7 428,269.7 433.3,272.3 437.3,275 434.7,277.7 434.7,282.3 441.3,282.3 440.7,271 438,268.3 437.3,265 441.3,261.7 442,255 444.7,251 457.3,248.3 460,243 460,235 459.5,217 460,200 454.7,194 449.3,187.3 444,180.7 438.7,174 433.3,167.3 426.7,162" fill="none" stroke="#000" stroke-width="2" stroke-linejoin="round" shape-rendering="crispEdges"/>
<rect x="617.1" y="84.9" width="4.5" height="2.2" fill="#000"/>
<rect x="613.3" y="89.3" width="3.4" height="1.8" fill="#000"/>
<rect x="615.3" y="92.4" width="1" height="3.2" fill="#000"/>
<rect x="618" y="92.4" width="2" height="1.6" fill="#000"/>
<rect x="615.8" y="101.1" width="1" height="1.7" fill="#000"/>
<rect x="616.2" y="107.4" width="1.5" height="1.5" fill="#000"/>
<rect x="615.3" y="113.2" width="2.3" height="1.2" fill="#000"/>
<rect x="621.1" y="76" width="2" height="0.9" fill="#000"/>
<rect x="620.2" y="210.2" width="4" height="5.4" fill="#000"/>
<rect x="350" y="231.1" width="6.2" height="5.8" fill="#000"/>
<rect x="580.7" y="273.2" width="2.4" height="1.2" fill="#000"/>
<rect x="588.2" y="266.9" width="0.9" height="2.2" fill="#000"/>
<rect x="566.4" y="282.8" width="2.4" height="1.7" fill="#000"/>
<rect x="560" y="287.2" width="1" height="1.6" fill="#000"/>
<rect x="562" y="286" width="1" height="0.8" fill="#000"/>
<rect x="556.9" y="288.8" width="1.1" height="1.1" fill="#000"/>
<rect x="591.3" y="254.2" width="4.9" height="3.6" fill="#000"/>
<rect x="593.6" y="257.8" width="2.2" height="3.5" fill="#000"/>
<rect x="597.8" y="258" width="2.2" height="0.8" fill="#000"/>
<rect x="590.9" y="264.9" width="1.1" height="1.1" fill="#000"/>
<rect x="446.5" y="429.5" width="1.2" height="13.8" fill="#000"/>
<rect x="443.6" y="502.4" width="2.5" height="9.9" fill="#000"/>
<rect x="446.1" y="505.6" width="4.1" height="3.9" fill="#000"/>
<rect x="597.3" y="257.7" width="2.3" height="1.3" fill="#000"/>
<rect x="590.7" y="264.6" width="1.3" height="1.1" fill="#000"/>
<rect x="580.7" y="273.4" width="2" height="1.1" fill="#000"/>
<rect x="566" y="281.7" width="2.7" height="2.6" fill="#000"/>
<rect x="560" y="287" width="2" height="1.3" fill="#000"/>
<rect x="556.7" y="288.6" width="1.3" height="1.1" fill="#000"/>
</svg>
<div class="abs" style="left:20.3px;top:22.38px;font-size:30.5px;line-height:30.5px;font-weight:bold;color:#000;transform:scaleX(0.972);">Mozambique</div>
<div class="abs" style="left:20.1px;top:658.60px;font-size:17.6px;line-height:17.6px;font-weight:bold;color:#000;transform:scaleX(1.04);">Precipitation</div>
<div class="abs" style="left:20.0px;top:689.03px;font-size:17.8px;line-height:17.8px;font-weight:normal;color:#000;transform:scaleX(1.012);">Dekad 1 February 2026</div>
<div class="abs" style="left:20.0px;top:719.03px;font-size:17.8px;line-height:17.8px;font-weight:normal;color:#000;transform:scaleX(1.012);">FEWS NET RFE</div>
<div class="abs" style="left:20.2px;top:749.03px;font-size:17.8px;line-height:17.8px;font-weight:normal;color:#000;transform:scaleX(1.012);">WGS84, Geographic Lat/Lon</div>
<div class="abs" style="left:469.6px;top:653.30px;font-size:13.7px;line-height:13.7px;font-weight:bold;color:#000;transform:scaleX(1.045);">mm/dekad</div>
<div id="ul"></div>
<div class="sw" style="top:671px;background:#c0c0c0"></div><div class="abs" style="left:509.6px;top:675.04px;font-size:8.7px;line-height:8.7px;font-weight:normal;color:#000;transform:scaleX(1.2);-webkit-text-stroke:0.08px #000;">0</div>
<div class="sw" style="top:688px;background:#ffffcc"></div><div class="abs" style="left:509.6px;top:692.04px;font-size:8.7px;line-height:8.7px;font-weight:normal;color:#000;transform:scaleX(1.2);-webkit-text-stroke:0.08px #000;">0 - 5</div>
<div class="sw" style="top:705px;background:#f0dcb9"></div><div class="abs" style="left:509.6px;top:709.04px;font-size:8.7px;line-height:8.7px;font-weight:normal;color:#000;transform:scaleX(1.2);-webkit-text-stroke:0.08px #000;">5 - 10</div>
<div class="sw" style="top:722px;background:#aff9a5"></div><div class="abs" style="left:509.6px;top:726.04px;font-size:8.7px;line-height:8.7px;font-weight:normal;color:#000;transform:scaleX(1.2);-webkit-text-stroke:0.08px #000;">10 - 20</div>
<div class="sw" style="top:739px;background:#78f573"></div><div class="abs" style="left:509.6px;top:743.04px;font-size:8.7px;line-height:8.7px;font-weight:normal;color:#000;transform:scaleX(1.2);-webkit-text-stroke:0.08px #000;">20 - 30</div>
<div class="sw" style="top:756px;background:#37d23c"></div><div class="abs" style="left:509.6px;top:760.04px;font-size:8.7px;line-height:8.7px;font-weight:normal;color:#000;transform:scaleX(1.2);-webkit-text-stroke:0.08px #000;">30 - 40</div>
<div class="sw" style="top:773px;background:#b4f0fa"></div><div class="abs" style="left:509.6px;top:777.04px;font-size:8.7px;line-height:8.7px;font-weight:normal;color:#000;transform:scaleX(1.2);-webkit-text-stroke:0.08px #000;">40 - 50</div>
<div class="sw" style="top:790px;background:#50a5f5"></div><div class="abs" style="left:509.6px;top:794.04px;font-size:8.7px;line-height:8.7px;font-weight:normal;color:#000;transform:scaleX(1.2);-webkit-text-stroke:0.08px #000;">50 - 75</div>
<div class="sw" style="top:807px;background:#1e6eeb"></div><div class="abs" style="left:509.6px;top:811.04px;font-size:8.7px;line-height:8.7px;font-weight:normal;color:#000;transform:scaleX(1.2);-webkit-text-stroke:0.08px #000;">75 - 100</div>
<div class="sw" style="top:824px;background:#ffe878"></div><div class="abs" style="left:509.6px;top:828.04px;font-size:8.7px;line-height:8.7px;font-weight:normal;color:#000;transform:scaleX(1.2);-webkit-text-stroke:0.08px #000;">100 - 150</div>
<div class="sw" style="top:841px;background:#ffa000"></div><div class="abs" style="left:509.6px;top:845.04px;font-size:8.7px;line-height:8.7px;font-weight:normal;color:#000;transform:scaleX(1.2);-webkit-text-stroke:0.08px #000;">150 - 200</div>
<div class="sw" style="top:858px;background:#ff3200"></div><div class="abs" style="left:509.6px;top:862.04px;font-size:8.7px;line-height:8.7px;font-weight:normal;color:#000;transform:scaleX(1.2);-webkit-text-stroke:0.08px #000;">> 200</div>
<div class="sw" style="top:886px;background:#696969"></div><div class="abs" style="left:510.4px;top:889.87px;font-size:8.9px;line-height:8.9px;font-weight:normal;color:#000;transform:scaleX(1.2);letter-spacing:0.25px;-webkit-text-stroke:0.08px #000;">missing</div>
<svg width="900" height="950" viewBox="0 0 900 950" style="position:absolute;left:0;top:0;pointer-events:none" font-family="Liberation Sans, Arial, sans-serif">
<defs><path id="arcL" d="M679.27,768.75 A23.7,23.7 0 0 0 697.70,782.77"/><path id="arcR" d="M704.91,782.67 A23.7,23.7 0 0 0 724.18,764.23"/></defs>
<circle cx="701.0" cy="759.3" r="26.65" fill="#fff" stroke="#111" stroke-width="2.7"/>
<g fill="#111">
<path d="M700.87,748.13 C703.33,751.67 702.80,754.33 700.87,754.33 C698.93,754.33 698.40,751.67 700.87,748.13Z"/>
<path d="M697.00,756.67 L700.87,755.67 L704.80,756.67 L703.67,763.33 L700.93,768.00 L698.20,763.33Z"/>
<path d="M694.40,766.00 C694.40,776.00 707.47,776.00 707.47,766.00 L703.33,763.33 L698.53,763.33Z"/>
</g><g fill="none" stroke="#fff">
<path d="M688.87,738.53 L700.93,766.53 L713.13,738.53" stroke-width="1.0"/>
<path d="M693.53,738.53 L700.93,758.00 L708.47,738.53" stroke-width="0.7"/>
</g><g fill="none" stroke="#111" stroke-linejoin="miter">
<path d="M686.53,738.53 L700.93,770.00 L715.47,738.53" stroke-width="2.1"/>
<path d="M691.20,738.53 L700.93,761.87 L710.80,738.53" stroke-width="1.8"/>
<path d="M701.00,770.00 L701.00,783.67" stroke-width="1.8"/>
</g><g fill="#111" stroke="#111" stroke-width="0.8" font-weight="bold" text-anchor="middle">
<text x="683.07" y="760.73" font-size="15.6" textLength="7" lengthAdjust="spacingAndGlyphs">F</text>
<text x="701.33" y="748.07" font-size="15.4" textLength="10" lengthAdjust="spacingAndGlyphs">A</text>
<text x="718.87" y="760.87" font-size="15.8" textLength="9.2" lengthAdjust="spacingAndGlyphs">O</text>
</g><g fill="#111" stroke="#111" stroke-width="0.3" font-weight="bold" font-size="7.3">
<text><textPath href="#arcL" textLength="22" lengthAdjust="spacing">FIAT</textPath></text>
<text><textPath href="#arcR" textLength="27" lengthAdjust="spacing">PANIS</textPath></text>
</g><g fill="#111" font-weight="bold" font-size="14.1">
<text x="739.3" y="747.5" textLength="138" lengthAdjust="spacingAndGlyphs">Food and Agriculture</text>
<text x="739.3" y="765.6" textLength="128.5" lengthAdjust="spacingAndGlyphs">Organization of the</text>
<text x="739.3" y="783.5" textLength="98.5" lengthAdjust="spacingAndGlyphs">United Nations</text>
</g><rect x="672.7" y="801.5" width="215.2" height="1.5" fill="#111"/>
<g fill="#333" font-size="15.3">
<text x="673" y="826.9" textLength="186" lengthAdjust="spacingAndGlyphs">Global Information and Early</text>
<text x="673" y="845.4" textLength="162" lengthAdjust="spacingAndGlyphs">Warning System – GIEWS</text>
</g></svg>
<div class="abs" style="left:15.2px;top:910.52px;font-size:11.2px;line-height:11.2px;font-weight:normal;color:#000;letter-spacing:0.315px;">Disclaimer: The boundaries and names shown and the designations used on this map do not imply the expression of any opinion whatsoever on the part of FAO</div>
<div class="abs" style="left:15.2px;top:924.22px;font-size:11.2px;line-height:11.2px;font-weight:normal;color:#000;letter-spacing:0.375px;">concerning the legal status of any country, territory, area or of its authorities, or concerning the delimitation of its frontiers and boundaries.</div>
<div id="frame"></div>
</body></html>
